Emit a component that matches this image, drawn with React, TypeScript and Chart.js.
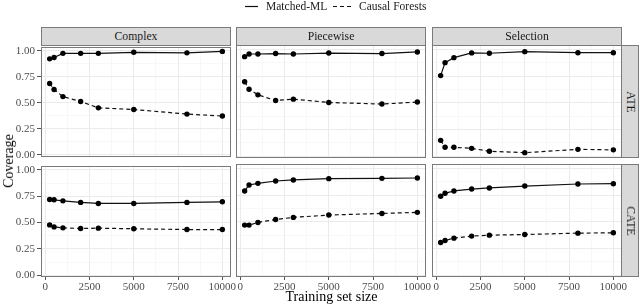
import React, { useEffect, useRef } from "react";
import { Chart, registerables } from "chart.js";
Chart.register(...registerables);

const FONT = '"Liberation Serif", "Times New Roman", serif';

// ---------- data ----------
const trainingSizes = [250, 500, 1000, 2000, 3000, 5000, 8000, 10000];
const scenarios = ["Complex", "Piecewise", "Selection"];
const estimands = ["ATE", "CATE"];
const methodNames = ["Matched-ML", "Causal Forests"];
const xTickLabels = [0, 2500, 5000, 7500, 10000];
const yTickLabels = [0, 0.25, 0.5, 0.75, 1];
const yAxisTitle = "Coverage";
const xAxisTitle = "Training set size";

const complexAteMatched = [0.922, 0.935, 0.975, 0.975, 0.975, 0.985, 0.98, 0.994];
const complexAteForest = [0.685, 0.627, 0.559, 0.512, 0.451, 0.435, 0.391, 0.372];
const piecewiseAteMatched = [0.931, 0.956, 0.956, 0.96, 0.956, 0.965, 0.96, 0.975];
const piecewiseAteForest = [0.696, 0.627, 0.574, 0.521, 0.534, 0.503, 0.488, 0.507];
const selectionAteMatched = [0.754, 0.875, 0.922, 0.966, 0.963, 0.978, 0.968, 0.968];
const selectionAteForest = [0.149, 0.084, 0.084, 0.074, 0.047, 0.034, 0.065, 0.06];

const complexCateMatched = [0.719, 0.716, 0.706, 0.691, 0.681, 0.681, 0.691, 0.697];
const complexCateForest = [0.478, 0.459, 0.45, 0.444, 0.447, 0.441, 0.434, 0.434];
const piecewiseCateMatched = [0.788, 0.844, 0.859, 0.881, 0.891, 0.903, 0.906, 0.909];
const piecewiseCateForest = [0.469, 0.469, 0.494, 0.522, 0.541, 0.563, 0.578, 0.588];
const selectionCateMatched = [0.738, 0.766, 0.788, 0.806, 0.816, 0.834, 0.853, 0.856];
const selectionCateForest = [0.306, 0.325, 0.347, 0.366, 0.375, 0.381, 0.394, 0.397];

const panelSeries = [
  [
    [complexAteMatched, complexAteForest],
    [piecewiseAteMatched, piecewiseAteForest],
    [selectionAteMatched, selectionAteForest],
  ],
  [
    [complexCateMatched, complexCateForest],
    [piecewiseCateMatched, piecewiseCateForest],
    [selectionCateMatched, selectionCateForest],
  ],
];

// ---------- layout ----------
const PANEL_LEFT = [41, 236, 432];
const PANEL_W = 190;
const ROW_TOP = [45, 164];
const PANEL_H = 113;
const Y_AXIS_W = 41;
const X_AXIS_H = 18;
const PAD = 7;
const PAD_R = 16;
const X_MIN = -237.5;
const X_MAX = 10487.5;
const Y_MIN = -0.016;
const Y_MAX = 1.04;

const TEXT_DARK = "#1A1A1A";
const TICK_TEXT = "#4D4D4D";
const BORDER = "#7a7a7a";

const xGridValues: number[] = [];
for (let i = 0; i <= 8; i++) xGridValues.push(i * 1250);
const yGridValues: number[] = [];
for (let i = 0; i <= 8; i++) yGridValues.push(i * 0.125);

const isMajorX = (v: number) => xTickLabels.includes(v);
const isMajorY = (v: number) => yTickLabels.some((t) => Math.abs(t - v) < 1e-9);

const panelBorder = {
  id: "panelBorder",
  afterDraw(chart: any) {
    const { ctx, chartArea: a } = chart;
    ctx.save();
    ctx.strokeStyle = BORDER;
    ctx.lineWidth = 1;
    ctx.strokeRect(
      Math.round(a.left) + 0.5,
      Math.round(a.top) + 0.5,
      Math.round(a.right - a.left) - 1,
      Math.round(a.bottom - a.top) - 1
    );
    ctx.restore();
  },
};

function Panel({ row, col }: { row: number; col: number }) {
  const ref = useRef<HTMLCanvasElement | null>(null);
  const axisW = col === 0 ? Y_AXIS_W : 0;
  const bottomRow = row === 1;
  const left = PANEL_LEFT[col] - axisW;
  const top = ROW_TOP[row] - PAD;
  const width = axisW + PANEL_W + PAD_R;
  const height = PAD + PANEL_H + (bottomRow ? X_AXIS_H : PAD);

  useEffect(() => {
    if (!ref.current) return;
    const [matched, forest] = panelSeries[row][col];
    const chart = new Chart(ref.current, {
      type: "line",
      data: {
        datasets: [
          {
            label: methodNames[0],
            data: trainingSizes.map((x, i) => ({ x, y: matched[i] })),
            borderColor: "#111",
            backgroundColor: "#000",
            borderWidth: 1.2,
            pointRadius: 2.7,
            pointBorderWidth: 0,
            pointBackgroundColor: "#000",
            tension: 0,
          },
          {
            label: methodNames[1],
            data: trainingSizes.map((x, i) => ({ x, y: forest[i] })),
            borderColor: "#111",
            backgroundColor: "#000",
            borderWidth: 1.2,
            borderDash: [4, 3],
            pointRadius: 2.7,
            pointBorderWidth: 0,
            pointBackgroundColor: "#000",
            tension: 0,
          },
        ],
      },
      options: {
        animation: false,
        responsive: true,
        maintainAspectRatio: false,
        layout: {
          autoPadding: false,
          padding: { top: PAD, right: PAD_R, bottom: bottomRow ? 0 : PAD, left: 0 },
        },
        plugins: { legend: { display: false }, tooltip: { enabled: false } },
        scales: {
          x: {
            type: "linear",
            min: X_MIN,
            max: X_MAX,
            afterBuildTicks: (s: any) => {
              s.ticks = xGridValues.map((v) => ({ value: v }));
            },
            afterFit: (s: any) => {
              s.height = bottomRow ? X_AXIS_H : 0;
            },
            border: { display: false },
            grid: {
              color: (c: any) => (isMajorX(c.tick.value) ? "#EBEBEB" : "#F3F3F3"),
              lineWidth: (c: any) => (isMajorX(c.tick.value) ? 1 : 0.6),
              drawTicks: bottomRow,
              tickLength: 3,
              tickColor: (c: any) => (isMajorX(c.tick.value) ? "#555" : "rgba(0,0,0,0)"),
            },
            ticks: {
              display: bottomRow,
              autoSkip: false,
              maxRotation: 0,
              minRotation: 0,
              padding: 1,
              color: TICK_TEXT,
              font: { family: FONT, size: 11 },
              callback: (v: any) => (isMajorX(Number(v)) ? String(v) : ""),
            },
          },
          y: {
            type: "linear",
            min: Y_MIN,
            max: Y_MAX,
            afterBuildTicks: (s: any) => {
              s.ticks = yGridValues.map((v) => ({ value: v }));
            },
            afterFit: (s: any) => {
              s.width = axisW;
            },
            border: { display: false },
            grid: {
              color: (c: any) => (isMajorY(c.tick.value) ? "#EBEBEB" : "#F3F3F3"),
              lineWidth: (c: any) => (isMajorY(c.tick.value) ? 1 : 0.6),
              drawTicks: col === 0,
              tickLength: 4,
              tickColor: (c: any) => (isMajorY(c.tick.value) ? "#555" : "rgba(0,0,0,0)"),
            },
            ticks: {
              display: col === 0,
              autoSkip: false,
              padding: 2,
              color: TICK_TEXT,
              font: { family: FONT, size: 11 },
              callback: (v: any) => (isMajorY(Number(v)) ? Number(v).toFixed(2) : ""),
            },
          },
        },
      },
      plugins: [panelBorder],
    } as any);
    return () => chart.destroy();
  }, [row, col]);

  return (
    <div style={{ position: "absolute", left, top, width, height }}>
      <canvas ref={ref} />
    </div>
  );
}

export default function App() {
  const panels = [];
  for (let r = 0; r < 2; r++) for (let c = 0; c < 3; c++) panels.push(<Panel key={`${r}-${c}`} row={r} col={c} />);

  return (
    <div
      style={{
        position: "absolute",
        left: 0,
        top: 0,
        width: 640,
        height: 307,
        background: "#fff",
        fontFamily: FONT,
        overflow: "hidden",
      }}
    >
      {panels}

      {/* top strips */}
      {scenarios.map((s, c) => (
        <div
          key={s}
          style={{
            position: "absolute",
            left: PANEL_LEFT[c],
            top: 27,
            width: PANEL_W,
            height: 19,
            boxSizing: "border-box",
            background: "#D9D9D9",
            border: `1px solid ${BORDER}`,
            color: TEXT_DARK,
            fontSize: 11.7,
            lineHeight: "17px",
            textAlign: "center",
          }}
        >
          {s}
        </div>
      ))}

      {/* right strips */}
      {estimands.map((e, r) => (
        <div
          key={e}
          style={{
            position: "absolute",
            left: PANEL_LEFT[2] + PANEL_W - 1,
            top: ROW_TOP[r],
            width: 18,
            height: PANEL_H,
            boxSizing: "border-box",
            background: "#D9D9D9",
            border: `1px solid ${BORDER}`,
          }}
        >
          <div
            style={{
              position: "absolute",
              left: "50%",
              top: "50%",
              transform: "translate(-50%, -50%) rotate(90deg)",
              whiteSpace: "nowrap",
              color: TEXT_DARK,
              fontSize: 11.7,
              lineHeight: "12px",
            }}
          >
            {e}
          </div>
        </div>
      ))}

      {/* legend */}
      <svg style={{ position: "absolute", left: 0, top: 0 }} width={640} height={14}>
        <line x1={245} x2={258} y1={6.5} y2={6.5} stroke="#111" strokeWidth={1.2} />
        <line x1={333} x2={352} y1={6.5} y2={6.5} stroke="#111" strokeWidth={1.2} strokeDasharray="4 3" />
      </svg>
      <div
        style={{
          position: "absolute",
          left: 266,
          top: -1,
          fontSize: 11.5,
          lineHeight: "14px",
          color: TEXT_DARK,
          whiteSpace: "nowrap",
        }}
      >
        {methodNames[0]}
      </div>
      <div
        style={{
          position: "absolute",
          left: 359,
          top: -1,
          fontSize: 11.5,
          lineHeight: "14px",
          color: TEXT_DARK,
          whiteSpace: "nowrap",
        }}
      >
        {methodNames[1]}
      </div>

      {/* axis titles */}
      <div
        style={{
          position: "absolute",
          left: 9,
          top: 161,
          transform: "translate(-50%, -50%) rotate(-90deg)",
          fontSize: 14,
          lineHeight: "14px",
          color: "#000",
          whiteSpace: "nowrap",
        }}
      >
        {yAxisTitle}
      </div>
      <div
        style={{
          position: "absolute",
          left: (PANEL_LEFT[0] + PANEL_LEFT[2] + PANEL_W) / 2,
          top: 290,
          transform: "translateX(-50%)",
          fontSize: 14,
          lineHeight: "14px",
          color: "#000",
          whiteSpace: "nowrap",
        }}
      >
        {xAxisTitle}
      </div>
    </div>
  );
}
